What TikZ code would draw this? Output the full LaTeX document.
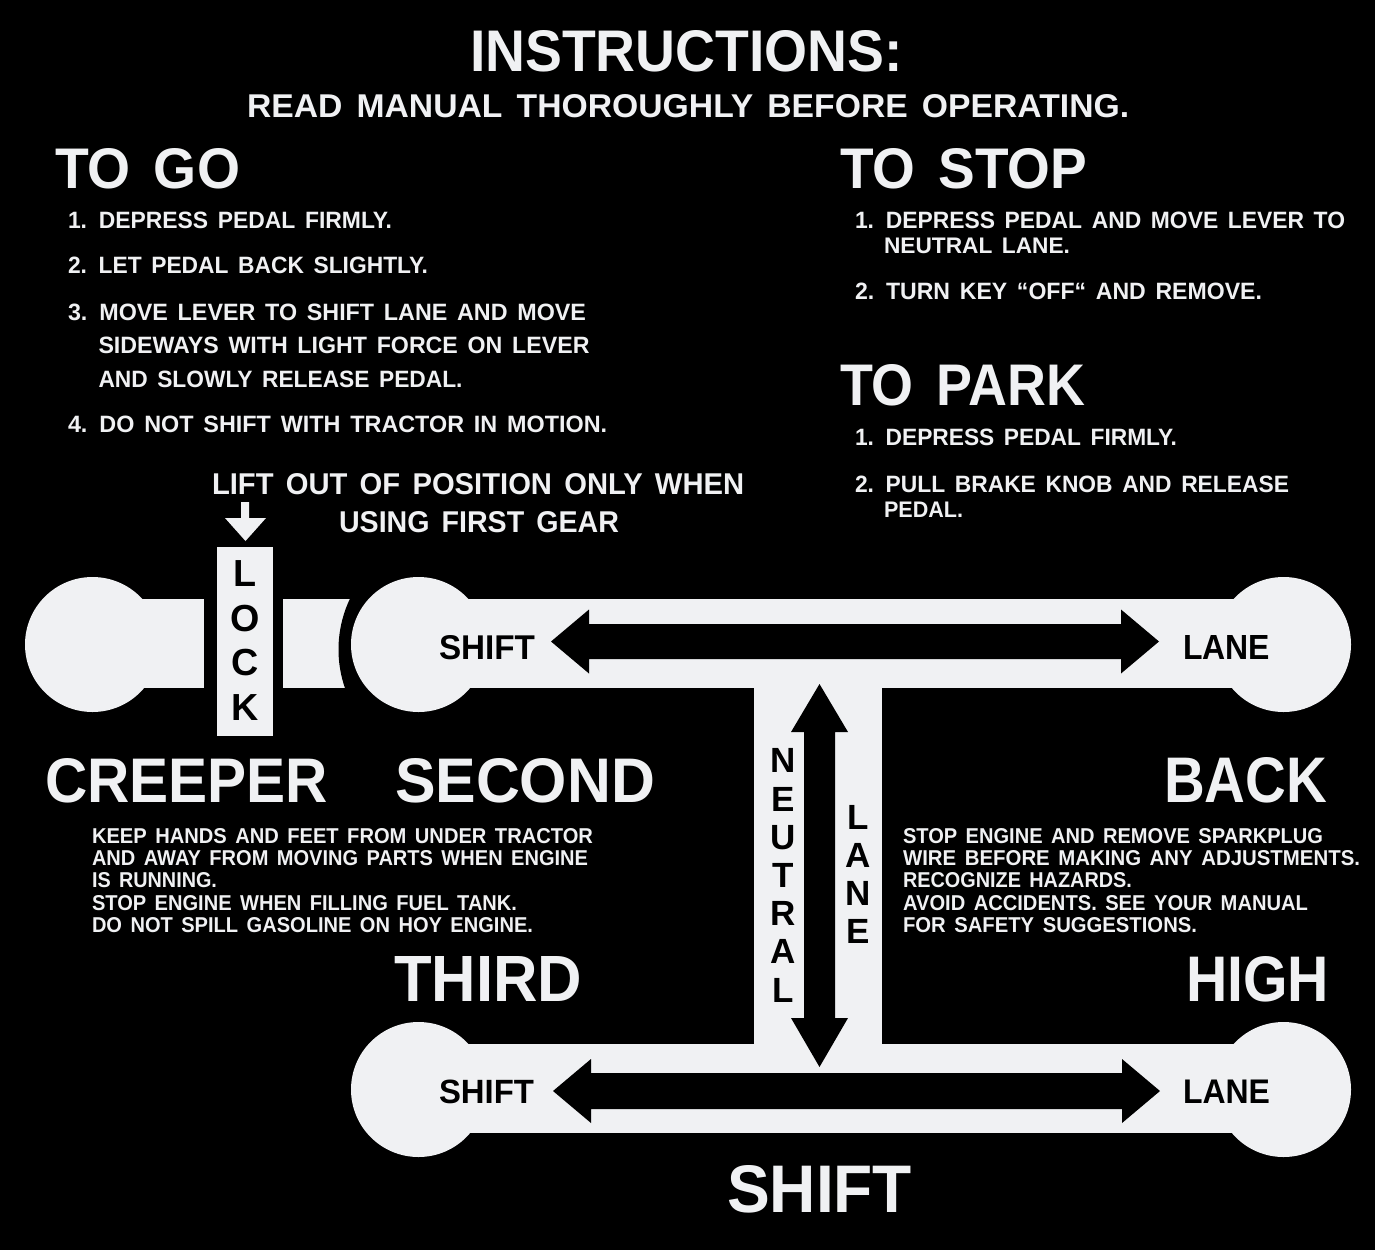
\documentclass[tikz,border=0pt]{standalone}
\usepackage{fontspec}
\setmainfont{Liberation Sans}
\usepackage{graphicx}
\definecolor{wh}{RGB}{240,241,243}
\tikzset{
  txt/.style={anchor=base west, inner sep=0pt, outer sep=0pt, text=wh},
  txtb/.style={txt, text=black},
  vl/.style={inner sep=0pt, text=black, font=\bfseries\fontsize{35}{40}\selectfont},
  vlk/.style={inner sep=0pt, text=black, font=\bfseries\fontsize{37.7}{42}\selectfont},
  plate/.style={fill=wh},
  hole/.style={fill=black},
}
\newcommand\TT[7][txt]{\node[#1] (#2) at (#3,#4) {\resizebox{#5pt}{#6pt}{\bfseries\spaceskip=.42em\relax #7}};}
\begin{document}
\begin{tikzpicture}[x=1pt,y=-1pt]
\useasboundingbox (0,0) rectangle (1375,1250);
\fill[black] (0,0) rectangle (1375,1250);
% creeper knob and lock
\fill[plate] (92.5,644.5) circle[radius=67.5];
\fill[plate] (92.5,599) rectangle (204,688);
\fill[plate] (217,547) rectangle (273,736);
\fill[plate] (283,599) rectangle (400,688);
\fill[hole] (456.5,649.5) circle[radius=118];
% gate
\fill[plate] (418.5,644.5) circle[radius=67.5];
\fill[plate] (1283.5,644.5) circle[radius=67.5];
\fill[plate] (418.5,1089.5) circle[radius=67.5];
\fill[plate] (1283.5,1089.5) circle[radius=67.5];
\fill[plate] (418.5,599) rectangle (1283.5,688);
\fill[plate] (418.5,1043.5) rectangle (1283.5,1133);
\fill[plate] (754,680) rectangle (882,1050);
% black arrows
\fill[hole] (551,641.5) -- (589,609.5) -- (589,624) -- (1121,624) -- (1121,609.5) -- (1159,641.5)
  -- (1121,673.5) -- (1121,659) -- (589,659) -- (589,673.5) -- cycle;
\fill[hole] (553,1091) -- (591,1059) -- (591,1073) -- (1122,1073) -- (1122,1059) -- (1160,1091)
  -- (1122,1123) -- (1122,1109) -- (591,1109) -- (591,1123) -- cycle;
\fill[hole] (819.5,684) -- (848,732) -- (835,732) -- (835,1018) -- (848,1018) -- (819.5,1067)
  -- (791,1018) -- (804,1018) -- (804,732) -- (791,732) -- cycle;
% lock arrow
\fill[plate] (241,502) -- (249,502) -- (249,518) -- (266,518) -- (245.5,541) -- (225,518) -- (241,518) -- cycle;
% headings
\TT{title}{470}{71}{433}{41}{INSTRUCTIONS:}
\TT{read}{247}{117}{882}{23}{READ MANUAL THOROUGHLY BEFORE OPERATING.}
\TT{togo}{55}{188}{185}{40}{TO GO}
\TT{go1}{68}{228}{324}{16.5}{1. DEPRESS PEDAL FIRMLY.}
\TT{go2}{68}{273}{360}{16.5}{2. LET PEDAL BACK SLIGHTLY.}
\TT{go3}{68}{320}{518}{16.5}{3. MOVE LEVER TO SHIFT LANE AND MOVE}
\TT{go3b}{98.5}{353}{491}{16.5}{SIDEWAYS WITH LIGHT FORCE ON LEVER}
\TT{go3c}{98.5}{387}{364}{16.5}{AND SLOWLY RELEASE PEDAL.}
\TT{go4}{68}{432}{539}{16.5}{4. DO NOT SHIFT WITH TRACTOR IN MOTION.}
\TT{tostop}{840}{188}{247}{40}{TO STOP}
\TT{st1}{855}{228}{490}{16.5}{1. DEPRESS PEDAL AND MOVE LEVER TO}
\TT{st1b}{884}{253}{186}{15.5}{NEUTRAL LANE.}
\TT{st2}{855}{299}{407}{16.5}{2. TURN KEY “OFF“ AND REMOVE.}
\TT{topark}{840}{405}{245}{41}{TO PARK}
\TT{pk1}{855}{445}{322}{16.5}{1. DEPRESS PEDAL FIRMLY.}
\TT{pk2}{855}{492}{434}{16.5}{2. PULL BRAKE KNOB AND RELEASE}
\TT{pk2b}{884}{517}{79}{15.5}{PEDAL.}
\TT{lift1}{212}{494}{532}{21}{LIFT OUT OF POSITION ONLY WHEN}
\TT{lift2}{339}{532}{280}{21}{USING FIRST GEAR}
% gear names
\TT{creeper}{45}{802}{283}{44}{CREEPER}
\TT{second}{395}{802}{260}{44}{SECOND}
\TT{back}{1164}{802}{163}{45}{BACK}
\TT{third}{394}{1001}{188}{45}{THIRD}
\TT{high}{1186}{1001}{143}{45}{HIGH}
\TT{shiftbig}{727}{1212}{185}{47}{SHIFT}
% warnings
\TT{wl1}{92}{843}{501}{15}{KEEP HANDS AND FEET FROM UNDER TRACTOR}
\TT{wl2}{92}{865}{496}{15}{AND AWAY FROM MOVING PARTS WHEN ENGINE}
\TT{wl3}{92}{887}{125}{15}{IS RUNNING.}
\TT{wl4}{92}{910}{425}{15}{STOP ENGINE WHEN FILLING FUEL TANK.}
\TT{wl5}{92}{932}{441}{15}{DO NOT SPILL GASOLINE ON HOY ENGINE.}
\TT{wr1}{903}{843}{420}{15}{STOP ENGINE AND REMOVE SPARKPLUG}
\TT{wr2}{903}{865}{457}{15}{WIRE BEFORE MAKING ANY ADJUSTMENTS.}
\TT{wr3}{903}{887}{229}{15}{RECOGNIZE HAZARDS.}
\TT{wr4}{903}{910}{405}{15}{AVOID ACCIDENTS. SEE YOUR MANUAL}
\TT{wr5}{903}{932}{294}{15}{FOR SAFETY SUGGESTIONS.}
% black labels in gate
\TT[txtb]{shiftT}{439}{659}{96}{24}{SHIFT}
\TT[txtb]{laneT}{1183}{659}{87}{24}{LANE}
\TT[txtb]{shiftB}{439}{1103}{95}{23.5}{SHIFT}
\TT[txtb]{laneB}{1183}{1103}{87}{23.5}{LANE}
% vertical letters
\foreach \l [count=\i] in {N,E,U,T,R,A,L}
  \node[vl] (neu\i) at (783.5,{760.8+38.2*(\i-1)}) {\l};
\foreach \l [count=\i] in {L,A,N,E}
  \node[vl] (lan\i) at (858.3,{817.5+38.1*(\i-1)}) {\l};
\foreach \l [count=\i] in {L,O,C,K}
  \node[vlk] (lock\i) at (245,{573.5+44.7*(\i-1)}) {\l};
\end{tikzpicture}
\end{document}
